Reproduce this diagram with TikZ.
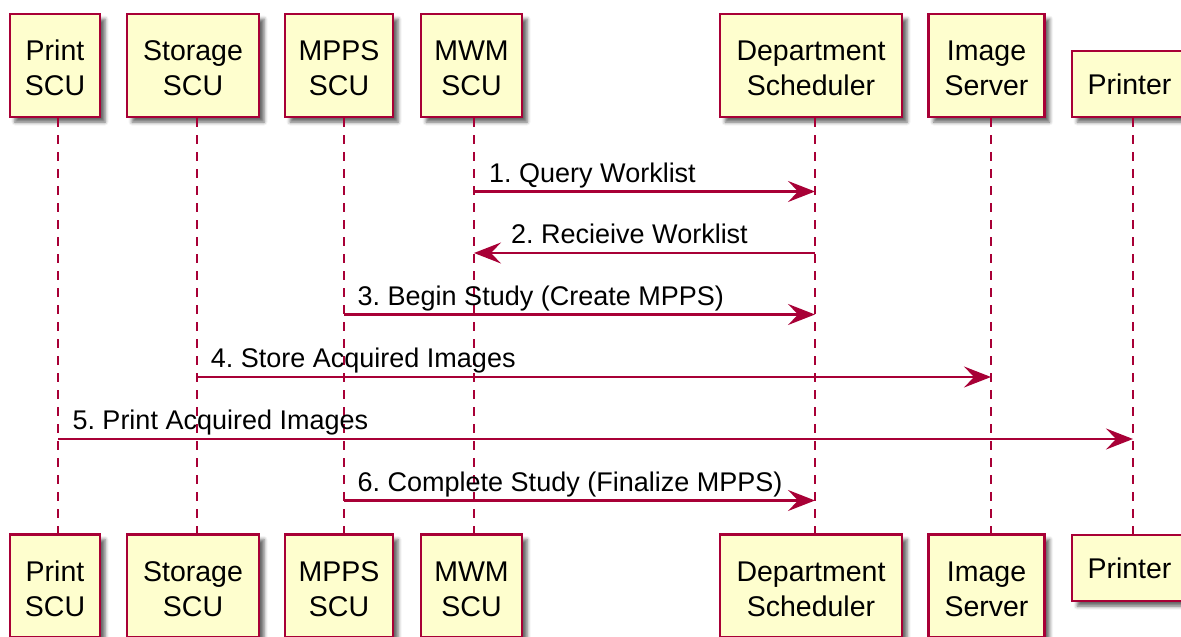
\documentclass[tikz,border=0pt]{standalone}
\usepackage{fontspec}
\setmainfont{Liberation Sans}
\usetikzlibrary{arrows.meta,shadows.blur,calc}
\definecolor{pumlred}{HTML}{A80036}
\definecolor{pumlfill}{HTML}{FEFECE}
\newcommand{\partfont}{\fontsize{28.5}{35}\selectfont}
\newcommand{\msgfont}{\frenchspacing\fontsize{27}{32}\selectfont}
\newcommand{\tstrut}{\rule{0pt}{25.5pt}}
\tikzset{
  part/.style={draw=pumlred, fill=pumlfill, line width=2.4pt, align=center,
    font=\partfont, inner sep=0pt, minimum height=103pt,
    blur shadow={shadow xshift=5pt, shadow yshift=-5pt, shadow blur radius=3.5pt, shadow opacity=60}},
  partone/.style={part, minimum height=66pt},
  lifeline/.style={draw=pumlred, line width=2pt, dash pattern=on 9pt off 8pt},
  msg/.style={draw=pumlred, line width=2.1pt, -{Stealth[length=27pt, width=21pt, inset=10pt]}},
  lbl/.style={font=\msgfont, inner sep=0pt, anchor=base west, text=black}
}
\begin{document}
\begin{tikzpicture}[x=1pt, y=-1pt]
\useasboundingbox (0,0) rectangle (1181,637);
% top participants
\node[part, minimum width=90pt]  (pt) at (55,65.5)    {\tstrut Print\\SCU};
\node[part, minimum width=132pt] (st) at (193,65.5)   {\tstrut Storage\\SCU};
\node[part, minimum width=108pt] (mp) at (339,65.5)   {\tstrut MPPS\\SCU};
\node[part, minimum width=101pt] (mw) at (471.5,65.5) {\tstrut MWM\\SCU};
\node[part, minimum width=182pt] (ds) at (811,65.5)   {\tstrut Department\\Scheduler};
\node[part, minimum width=116pt] (is) at (986.5,65.5) {\tstrut Image\\Server};
\node[partone, minimum width=115pt] (pr) at (1129.5,84) {Printer};
% bottom participants
\node[part, minimum width=90pt]  (pb) at (55,586)    {\tstrut Print\\SCU};
\node[part, minimum width=132pt] (sb) at (193,586)   {\tstrut Storage\\SCU};
\node[part, minimum width=108pt] (mb) at (339,586)   {\tstrut MPPS\\SCU};
\node[part, minimum width=101pt] (wb) at (471.5,586) {\tstrut MWM\\SCU};
\node[part, minimum width=182pt] (db) at (811,586)   {\tstrut Department\\Scheduler};
\node[part, minimum width=116pt] (ib) at (986.5,586) {\tstrut Image\\Server};
\node[partone, minimum width=115pt] (rb) at (1129.5,568) {Printer};
% lifeline x positions
\coordinate (Lpt) at (58.3,0);
\coordinate (Lst) at (196.7,0);
\coordinate (Lmp) at (343.5,0);
\coordinate (Lmw) at (474,0);
\coordinate (Lds) at (815,0);
\coordinate (Lis) at (991,0);
\coordinate (Lpr) at (1133,0);
% lifelines
\draw[lifeline] (Lpt |- pt.south) -- (Lpt |- pb.north);
\draw[lifeline] (Lst |- st.south) -- (Lst |- sb.north);
\draw[lifeline] (Lmp |- mp.south) -- (Lmp |- mb.north);
\draw[lifeline] (Lmw |- mw.south) -- (Lmw |- wb.north);
\draw[lifeline] (Lds |- ds.south) -- (Lds |- db.north);
\draw[lifeline] (Lis |- is.south) -- (Lis |- ib.north);
\draw[lifeline] (Lpr |- pr.south) -- (Lpr |- rb.north);
% message rows
\coordinate (m1) at (0,191.5);
\coordinate (m2) at (0,253);
\coordinate (m3) at (0,314.5);
\coordinate (m4) at (0,377);
\coordinate (m5) at (0,439);
\coordinate (m6) at (0,500.5);
% messages
\draw[msg] (Lmw |- m1) -- (Lds |- m1);
\node[lbl] (t1) at ($(Lmw |- m1)+(15,-9.5)$) {1. Query Worklist};
\draw[msg] (Lds |- m2) -- (Lmw |- m2);
\node[lbl] (t2) at ($(Lmw |- m2)+(37,-9.5)$) {2. Recieive Worklist};
\draw[msg] (Lmp |- m3) -- (Lds |- m3);
\node[lbl] (t3) at ($(Lmp |- m3)+(14,-9.5)$) {3. Begin Study (Create MPPS)};
\draw[msg] (Lst |- m4) -- (Lis |- m4);
\node[lbl] (t4) at ($(Lst |- m4)+(14,-9.5)$) {4. Store Acquired Images};
\draw[msg] (Lpt |- m5) -- (Lpr |- m5);
\node[lbl] (t5) at ($(Lpt |- m5)+(14,-9.5)$) {5. Print Acquired Images};
\draw[msg] (Lmp |- m6) -- (Lds |- m6);
\node[lbl] (t6) at ($(Lmp |- m6)+(14,-9.5)$) {6. Complete Study (Finalize MPPS)};
\end{tikzpicture}
\end{document}
